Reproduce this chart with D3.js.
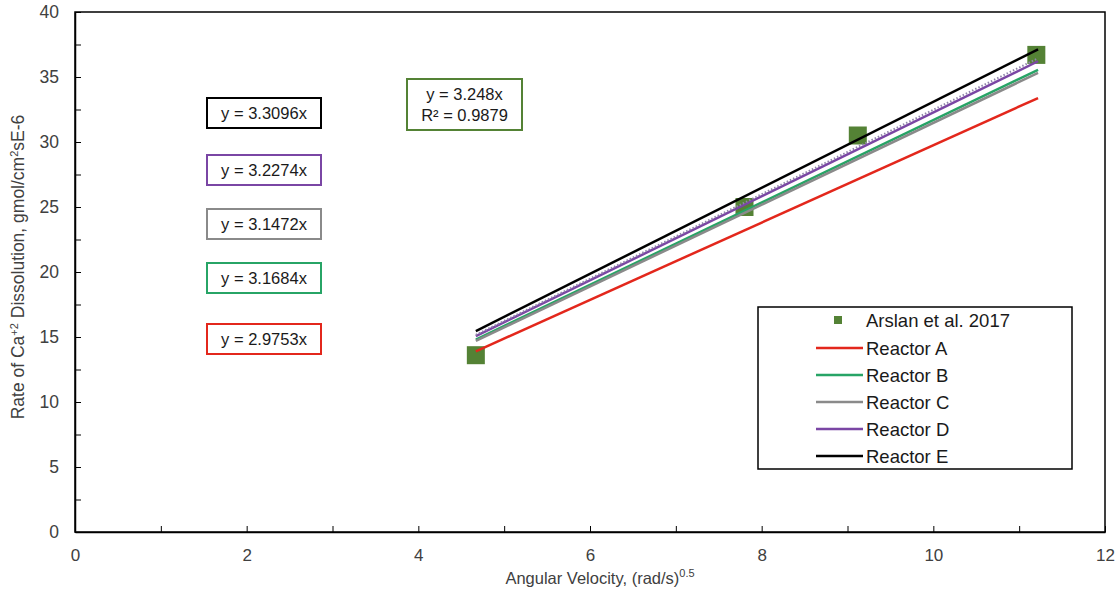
<!DOCTYPE html>
<html>
<head>
<meta charset="utf-8">
<script src="https://cdn.jsdelivr.net/npm/d3@7"></script>
<style>
  body { margin: 0; background: #fff; }
  svg { font-family: "Liberation Sans", Arial, sans-serif; }
  .tick text { font-size: 17.5px; fill: #404040; }
  .xaxis .tick text { font-family: "Liberation Sans Narrow", "Liberation Sans", Arial, sans-serif; font-size: 17px; }
</style>
</head>
<body>
<div id="chart"></div>
<script>
// Measured data (Arslan et al. 2017)
const arslanX = [4.67, 7.80, 9.12, 11.20];
const arslanY = [13.6, 25.0, 30.5, 36.7];

// Fitted reactor slopes (y = m x)
const reactorNames = ["Reactor A", "Reactor B", "Reactor C", "Reactor D", "Reactor E"];
const reactorSlopes = [2.9753, 3.1684, 3.1472, 3.2274, 3.3096];
const reactorColors = ["#e3271c", "#27a466", "#8a8a8a", "#7a46a4", "#000000"];
const lineRange = [4.67, 11.22];

// Trendline of the measured data
const trendSlope = 3.248;
const trendR2 = 0.9879;

// Equation labels, top to bottom
const eqOrder = [4, 3, 2, 1, 0];

// Axis ticks
const xTicks = d3.range(0, 13, 1);
const yTicks = d3.range(0, 42.5, 2.5);

const W = 1119, H = 598;
const margin = { top: 12, right: 14, bottom: 66, left: 75 };
const iw = W - margin.left - margin.right;
const ih = H - margin.top - margin.bottom;

const svg = d3.select("#chart").append("svg")
  .attr("width", W).attr("height", H);
const g = svg.append("g").attr("transform", `translate(${margin.left},${margin.top})`);

const x = d3.scaleLinear().domain([0, 12]).range([0, iw]);
const y = d3.scaleLinear().domain([0, 40]).range([ih, 0]);

// Frame
g.append("rect").attr("width", iw).attr("height", ih)
  .attr("fill", "none").attr("stroke", "#000").attr("stroke-width", 1.5);

// X axis, ticks inward, labels on even values only
g.append("g").attr("class", "xaxis")
  .attr("transform", `translate(0,${ih})`)
  .call(d3.axisBottom(x).tickValues(xTicks).tickSizeInner(-6).tickSizeOuter(0).tickPadding(17)
    .tickFormat(d => d % 2 === 0 ? d : ""))
  .call(a => a.select(".domain").attr("stroke-width", 1.5));

// Y axis, ticks inward, labels every 5
g.append("g").attr("class", "yaxis")
  .call(d3.axisLeft(y).tickValues(yTicks).tickSizeInner(-6).tickSizeOuter(0).tickPadding(16)
    .tickFormat(d => d % 5 === 0 ? d : ""))
  .call(a => a.select(".domain").attr("stroke-width", 1.5));

// Axis titles
const xt = svg.append("text")
  .attr("x", 600).attr("y", 584)
  .attr("text-anchor", "middle")
  .style("font-size", "16.5px").attr("fill", "#404040");
xt.append("tspan").text("Angular Velocity, (rad/s)");
xt.append("tspan").attr("dy", -7).style("font-size", "11px").text("0.5");

const yt = svg.append("text")
  .attr("transform", `translate(24,267) rotate(-90)`)
  .attr("text-anchor", "middle")
  .style("font-size", "17.5px").attr("fill", "#404040");
yt.append("tspan").text("Rate of Ca");
yt.append("tspan").attr("dy", -6).style("font-size", "11px").text("+2");
yt.append("tspan").attr("dy", 6).text(" Dissolution, gmol/cm");
yt.append("tspan").attr("dy", -6).style("font-size", "11px").text("2");
yt.append("tspan").attr("dy", 6).text("sE-6");

// Markers first (lines are drawn over them)
g.selectAll(".pt").data(arslanX.map((d, i) => [d, arslanY[i]]))
  .enter().append("rect")
  .attr("x", d => x(d[0]) - 9).attr("y", d => y(d[1]) - 9)
  .attr("width", 18).attr("height", 18)
  .attr("fill", "#548235");

const line = d3.line().x(d => x(d[0])).y(d => y(d[1]));

// Reactor lines
reactorSlopes.forEach((m, i) => {
  g.append("path")
    .datum(lineRange.map(v => [v, m * v]))
    .attr("d", line)
    .attr("fill", "none")
    .attr("stroke", reactorColors[i])
    .attr("stroke-width", 2.5);
});

// Dotted trendline for measured data
g.append("path")
  .datum(lineRange.map(v => [v, trendSlope * v]))
  .attr("d", line)
  .attr("fill", "none")
  .attr("stroke", "#8f84aa")
  .attr("stroke-width", 2)
  .attr("stroke-dasharray", "1.5,2");

// Equation boxes
const eqTop = [98, 155, 209, 263, 324];
eqOrder.forEach((idx, k) => {
  const bx = 207, by = eqTop[k], bw = 114, bh = 30;
  svg.append("rect").attr("x", bx).attr("y", by).attr("width", bw).attr("height", bh)
    .attr("fill", "#fff").attr("stroke", reactorColors[idx]).attr("stroke-width", 2);
  svg.append("text").attr("x", bx + bw / 2).attr("y", by + 21)
    .attr("text-anchor", "middle").style("font-size", "16.5px").attr("fill", "#1a1a1a")
    .text(`y = ${reactorSlopes[idx]}x`);
});

// Trendline equation box
svg.append("rect").attr("x", 407).attr("y", 79).attr("width", 115).attr("height", 51)
  .attr("fill", "#fff").attr("stroke", "#548235").attr("stroke-width", 2);
svg.append("text").attr("x", 464.5).attr("y", 100).attr("text-anchor", "middle")
  .style("font-size", "16.5px").attr("fill", "#1a1a1a").text(`y = ${trendSlope}x`);
svg.append("text").attr("x", 464.5).attr("y", 121).attr("text-anchor", "middle")
  .style("font-size", "16.5px").attr("fill", "#1a1a1a").text(`R² = ${trendR2}`);

// Legend
const lg = svg.append("g");
lg.append("rect").attr("x", 758).attr("y", 307).attr("width", 314).attr("height", 162)
  .attr("fill", "#fff").attr("stroke", "#000").attr("stroke-width", 1.5);
lg.append("rect").attr("x", 834).attr("y", 316).attr("width", 8).attr("height", 8).attr("fill", "#548235");
lg.append("text").attr("x", 866).attr("y", 327).style("font-size", "18.5px").attr("fill", "#1a1a1a")
  .text("Arslan et al. 2017");
reactorNames.forEach((n, i) => {
  const yy = 348 + i * 27;
  lg.append("line").attr("x1", 816).attr("x2", 863).attr("y1", yy).attr("y2", yy)
    .attr("stroke", reactorColors[i]).attr("stroke-width", 2.5);
  lg.append("text").attr("x", 866).attr("y", yy + 7).style("font-size", "18.5px").attr("fill", "#1a1a1a")
    .text(n);
});
</script>
</body>
</html>
